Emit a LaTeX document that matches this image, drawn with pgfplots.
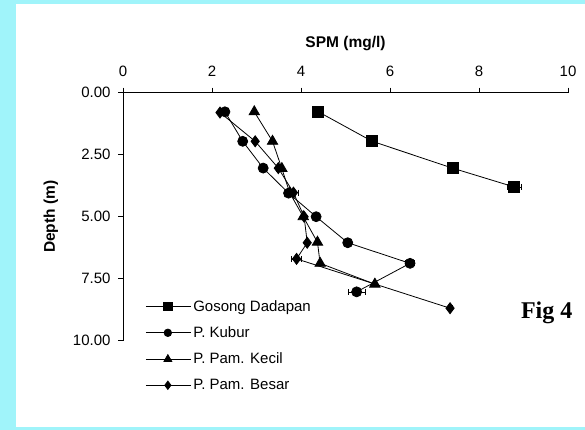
\documentclass[border=0pt]{standalone}
\usepackage{pgfplots}
\pgfplotsset{compat=1.18}
\usepackage{fontspec}
\setmainfont{Liberation Sans}
\newfontfamily\figfont{Liberation Serif}
\definecolor{bgcyan}{RGB}{160,244,250}

\begin{document}
\begin{tikzpicture}[x=1pt,y=1pt]
  % page background: cyan frame with white panel
  \fill[bgcyan] (0,0) rectangle (585,430);
  \fill[white] (16,3) rectangle (585,426);
  \useasboundingbox (0,0) rectangle (585,430);

  \begin{axis}[
      at={(123pt,89.3pt)}, anchor=south west,
      scale only axis, width=445pt, height=248pt,
      xmin=0, xmax=10, ymin=0, ymax=10,
      y dir=reverse,
      axis x line*=top, axis y line*=left,
      axis line style={-, line width=0.8pt},
      tick align=outside, major tick length=5pt,
      tick style={line width=0.8pt, black},
      xtick={0,2,...,10}, ytick={0,2.5,5,7.5,10},
      yticklabel style={xshift=-4pt, /pgf/number format/.cd, fixed, fixed zerofill, precision=2},
      xticklabel style={yshift=8pt},
      /pgf/number format/assume math mode=true,
      ticklabel style={font=\fontsize{15}{16}\selectfont},
      xlabel={\textbf{SPM (mg/l)}}, ylabel={\textbf{Depth (m)}},
      label style={font=\fontsize{15.5}{17}\selectfont},
      xlabel style={yshift=8pt},
      ylabel style={yshift=8pt},
      clip=false,
      every axis plot/.append style={black, line width=0.8pt},
      error bars/error bar style={line width=0.6pt},
      error bars/error mark options={rotate=90, mark size=3pt, line width=0.6pt},
      legend style={at={(axis description cs:0.05,0.172)}, anchor=north west,
        draw=none, fill=none, inner sep=0pt,
        font=\fontsize{15}{16}\selectfont,
        row sep=10pt},
      legend cell align=left,
      legend image code/.code={
        \draw[mark repeat=2, mark phase=2, #1, mark options={scale=0.75}]
          plot coordinates {(0pt,0pt) (22pt,0pt) (45pt,0pt)};
      },
    ]

    \addplot[mark=square*, mark size=5.5pt,
      error bars/.cd, x dir=both, x explicit] coordinates {
      (4.39,0.77) (5.60,1.96) (7.42,3.05) (8.79,3.80) +- (0.15,0)
    };
    \addplot[mark=*, mark size=5pt,
      error bars/.cd, x dir=both, x explicit] coordinates {
      (2.29,0.77) (2.69,1.96) (3.15,3.04) (3.72,4.05)
      (4.34,5.00) (5.05,6.05) (6.45,6.88) +- (0.10,0) (5.25,8.03) +- (0.19,0)
    };
    \addplot[mark=triangle*, mark size=6pt] coordinates {
      (2.95,0.77) (3.36,1.96) (3.57,3.06) (3.75,4.05)
      (4.05,5.00) (4.37,6.03) (4.43,6.88) (5.66,7.72)
    };
    \addplot[mark=diamond*, mark size=5.5pt,
      error bars/.cd, x dir=both, x explicit] coordinates {
      (2.18,0.80) (2.97,1.96) (3.49,3.04) (3.83,4.03) +- (0.10,0)
      (4.07,5.00) (4.14,6.05) (3.90,6.70) +- (0.11,0) (7.35,8.69) +- (0.05,0)
    };
    \legend{Gosong Dadapan, P. Kubur, P. Pam. Kecil, P. Pam. Besar}
  \end{axis}

  \node[font=\figfont\bfseries\fontsize{24}{26}\selectfont] at (546.7,117) {Fig 4};
\end{tikzpicture}
\end{document}
